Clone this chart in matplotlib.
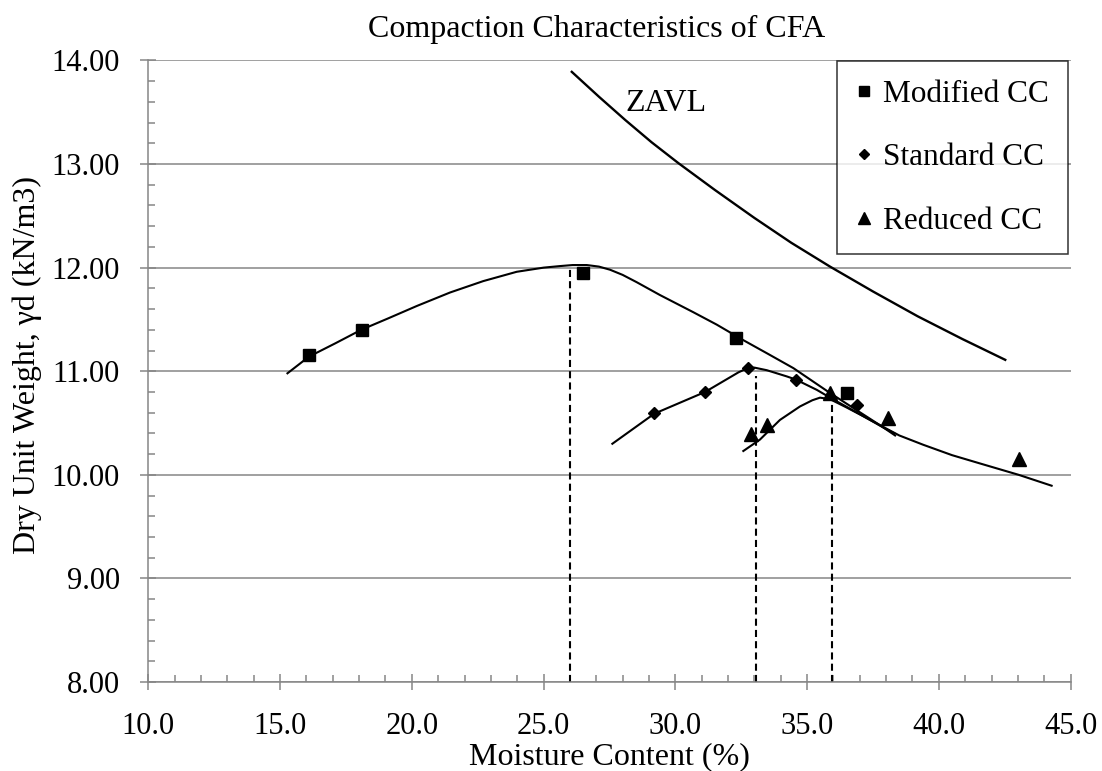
import matplotlib
matplotlib.use("Agg")
import matplotlib.pyplot as plt
from matplotlib.ticker import MultipleLocator, FormatStrFormatter

plt.rcParams['font.family'] = ['Liberation Serif', 'DejaVu Serif']

# measured points (moisture content %, dry unit weight kN/m3)
mod_w = [16.1, 18.1, 26.5, 32.3, 36.5]
mod_g = [11.16, 11.40, 11.95, 11.32, 10.79]
std_w = [29.2, 31.13, 32.75, 34.57, 36.88]
std_g = [10.60, 10.80, 11.03, 10.92, 10.67]
red_w = [32.86, 33.47, 35.87, 38.06, 43.03]
red_g = [10.39, 10.48, 10.79, 10.55, 10.15]

# fitted compaction curves
mod_fit_w = [15.28, 16.09, 17.1, 18.08, 19.1, 20.19, 21.45, 22.71, 23.98, 25.0, 25.62,
             26.1, 26.64, 27.1, 27.52, 28.0, 28.53, 29.42, 30.68, 31.57, 32.58, 33.5,
             34.48, 35.87, 37.76, 38.34]
mod_fit_g = [10.98, 11.14, 11.27, 11.40, 11.51, 11.63, 11.76, 11.87, 11.96, 12.0, 12.015,
             12.025, 12.025, 12.01, 11.98, 11.93, 11.86, 11.735, 11.57, 11.45, 11.30, 11.17,
             11.03, 10.79, 10.48, 10.38]
std_fit_w = [27.61, 29.2, 31.13, 32.4, 32.75, 33.0, 33.47, 33.85, 34.23, 34.57,
             35.37, 35.84, 36.9, 37.87, 38.31]
std_fit_g = [10.30, 10.59, 10.80, 10.99, 11.03, 11.035, 11.01, 10.98, 10.95, 10.92,
             10.82, 10.75, 10.60, 10.46, 10.40]
red_fit_w = [32.58, 33.21, 33.97, 34.73, 35.2, 35.49, 35.87, 36.5, 37.1, 37.76, 38.5,
             39.41, 40.5, 41.56, 43.03, 44.28]
red_fit_g = [10.23, 10.34, 10.53, 10.66, 10.72, 10.745, 10.73, 10.65, 10.57, 10.48, 10.38,
             10.29, 10.19, 10.11, 10.0, 9.895]

# zero air voids line
zavl_w = [26.07, 27.1, 28.1, 29.1, 30.11, 31.5, 33.0, 34.4, 35.87, 37.5,
          39.2, 40.9, 42.52]
zavl_g = [13.89, 13.65, 13.425, 13.21, 13.01, 12.75, 12.48, 12.24, 12.01, 11.77,
          11.53, 11.31, 11.11]

# optimum moisture contents and their peak weights
omc_w = [26.0, 33.05, 35.95]
omc_g = [12.0, 10.95, 10.70]

grey = '#868686'

fig = plt.figure(figsize=(11.02, 7.71), dpi=100)
ax = fig.add_axes([0.1346, 0.1154, 0.8369, 0.8062])

ax.plot(zavl_w, zavl_g, color='k', lw=1.7, zorder=3, solid_joinstyle='round')
for fw, fg in [(mod_fit_w, mod_fit_g), (std_fit_w, std_fit_g), (red_fit_w, red_fit_g)]:
    ax.plot(fw, fg, color='k', lw=1.5, zorder=3, solid_joinstyle='round')

# drop lines from each peak down to the moisture axis
for w, g in zip(omc_w, omc_g):
    ax.plot([w, w], [8.0, g], color='k', lw=1.5, linestyle=(0, (3.4, 2.0)), zorder=2)

ax.plot(mod_w, mod_g, linestyle='none', marker='s', ms=9, color='k', label='Modified CC', zorder=4)
ax.plot(std_w, std_g, linestyle='none', marker='D', ms=6.5, color='k', label='Standard CC', zorder=4)
ax.plot(red_w, red_g, linestyle='none', marker='^', ms=9.5, color='k', label='Reduced CC', zorder=4)

ax.text(28.1, 13.51, 'ZAVL', fontsize=23, ha='left', va='baseline')

ax.set_xlim(10, 45)
ax.set_ylim(8, 14)
ax.xaxis.set_major_locator(MultipleLocator(5))
ax.xaxis.set_minor_locator(MultipleLocator(1))
ax.yaxis.set_major_locator(MultipleLocator(1))
ax.yaxis.set_minor_locator(MultipleLocator(0.2))
ax.xaxis.set_major_formatter(FormatStrFormatter('%.1f'))
ax.yaxis.set_major_formatter(FormatStrFormatter('%.2f'))

ax.grid(axis='y', which='major', color=grey, lw=1.1, zorder=0)
ax.set_axisbelow(True)
for side in ['top', 'right']:
    ax.spines[side].set_visible(False)
for side in ['left', 'bottom']:
    ax.spines[side].set_color(grey)
    ax.spines[side].set_linewidth(1.1)

ax.tick_params(which='major', direction='inout', length=12, width=1.1, color=grey, labelsize=22)
ax.tick_params(axis='y', which='major', pad=14.5)
ax.tick_params(axis='x', which='major', pad=15.5)
ax.tick_params(which='minor', direction='in', length=5, width=1.1, color=grey)

leg = ax.legend(loc='upper right', bbox_to_anchor=(0.997, 0.999), borderaxespad=0,
                fontsize=22.5, frameon=True, fancybox=False, edgecolor='k',
                borderpad=0.6, labelspacing=1.1, handlelength=0.5, handletextpad=0.37,
                markerscale=0.85)
leg.get_frame().set_linewidth(1.1)

fig.text(0.541, 0.952, 'Compaction Characteristics of CFA', fontsize=23, ha='center', va='baseline')
fig.text(0.5526, 0.009, 'Moisture Content (%)', fontsize=23, ha='center', va='baseline')
fig.text(0.0245, 0.527, 'Dry Unit Weight, γd (kN/m3)', fontsize=23, rotation=90,
         ha='center', va='center')

fig.savefig('out.png', dpi=100)
